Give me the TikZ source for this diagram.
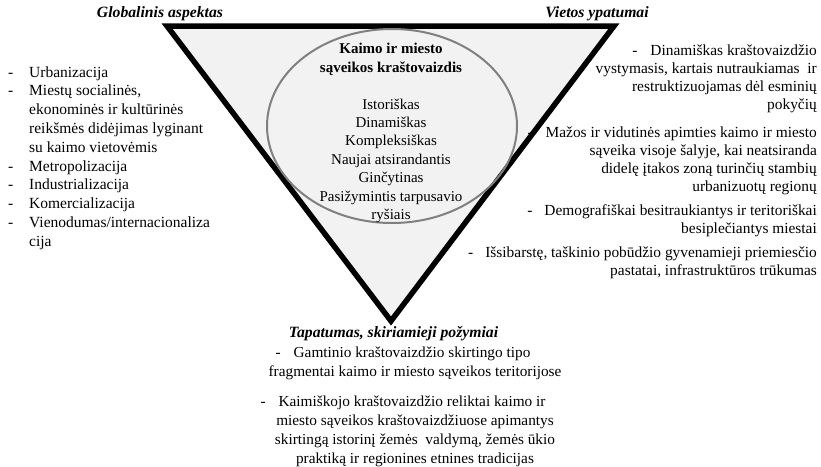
\documentclass[tikz,border=0pt]{standalone}
\usepackage{fontspec}
\setmainfont{Liberation Serif}

\definecolor{trifill}{RGB}{242,242,242}
\definecolor{ringgray}{RGB}{128,128,128}

\tikzset{
  txt/.style={inner sep=0pt, font=\fontsize{15.5}{18.8}\selectfont},
  sidetxt/.style={inner sep=0pt, font=\fontsize{15.4}{18}\selectfont},
  lowtxt/.style={inner sep=0pt, font=\fontsize{15.3}{19}\selectfont},
  midtxt/.style={inner sep=0pt, font=\fontsize{15}{18.4}\selectfont},
  head/.style={inner sep=0pt, anchor=base, font=\fontsize{15.7}{18}\selectfont\bfseries\itshape},
}

\begin{document}
\begin{tikzpicture}[x=1pt,y=-1pt,line join=miter]
\useasboundingbox (0,0) rectangle (821,466);

% --- the inverted triangle ---
\coordinate (TL) at (167,26);
\coordinate (TR) at (614,26);
\coordinate (Bt) at (391,321);
\draw[line width=5.5pt, fill=trifill] (TL) -- (TR) -- (Bt) -- cycle;

% --- ring inside it ---
\coordinate (Ctr) at (392,126);
\draw[ringgray, line width=2pt] (Ctr) ellipse [x radius=125, y radius=97];

% --- corner headings ---
\node[head] (glob) at (160,17) {Globalinis aspektas};
\node[head] (viet) at (597,17) {Vietos ypatumai};
\node[head] (tapa) at (393.5,337) {Tapatumas, skiriamieji požymiai};

% --- text in the ring ---
\node[midtxt, anchor=north] (core) at (391,40.8) {%
  \begin{tabular}{@{}c@{}}
  \textbf{Kaimo ir miesto}\\
  \textbf{sąveikos kraštovaizdis}\\
  \\
  Istoriškas\\
  Dinamiškas\\
  Kompleksiškas\\
  Naujai atsirandantis\\
  Ginčytinas\\
  Pasižymintis tarpusavio\\
  ryšiais
  \end{tabular}};

% --- left list ---
\node[txt, anchor=north west] (left) at (8,63.8) {%
  \begin{tabular}{@{}p{21pt}@{}l@{}}
  - & Urbanizacija\\
  - & Miestų socialinės,\\
    & ekonominės ir kultūrinės\\
    & reikšmės didėjimas lyginant\\
    & su kaimo vietovėmis\\
  - & Metropolizacija\\
  - & Industrializacija\\
  - & Komercializacija\\
  - & Vienodumas/internacionaliza\\
    & cija
  \end{tabular}};

% --- right list ---
\node[sidetxt, anchor=north east] (right) at (817,42.4) {%
  \begin{tabular}{@{}r@{}}
  -\hspace{13pt}Dinamiškas kraštovaizdžio\\
  vystymasis, kartais nutraukiamas\ \ ir\\
  restruktizuojamas dėl esminių\\
  pokyčių\\[10pt]
  -\hspace{13pt}Mažos ir vidutinės apimties kaimo ir miesto\\
  sąveika visoje šalyje, kai neatsiranda\\
  didelę įtakos zoną turinčių stambių\\
  urbanizuotų regionų\\[6pt]
  -\hspace{12pt}Demografiškai besitraukiantys ir teritoriškai\\
  besiplečiantys miestai\\[6pt]
  -\hspace{12pt}Išsibarstę, taškinio pobūdžio gyvenamieji priemiesčio\\
  pastatai, infrastruktūros trūkumas
  \end{tabular}};

% --- bottom list ---
\node[lowtxt, anchor=north] (bottom) at (415,343.7) {%
  \begin{tabular}{@{}c@{}}
  -\hspace{13pt}Gamtinio kraštovaizdžio skirtingo tipo\hspace*{24pt}\\
  fragmentai kaimo ir miesto sąveikos teritorijose\\[11pt]
  -\hspace{13pt}Kaimiškojo kraštovaizdžio reliktai kaimo ir\hspace*{24pt}\\
  miesto sąveikos kraštovaizdžiuose apimantys\\
  skirtingą istorinį žemės\ \ valdymą, žemės ūkio\\
  praktiką ir regionines etnines tradicijas
  \end{tabular}};
\end{tikzpicture}
\end{document}
